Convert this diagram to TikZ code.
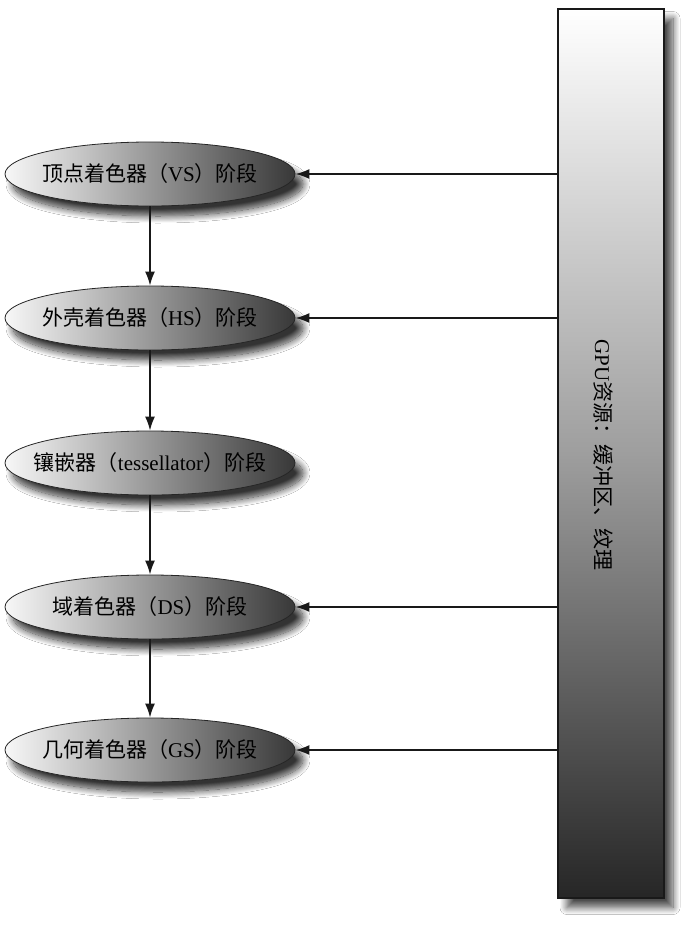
\documentclass[tikz,border=0pt]{standalone}
\usepackage{fontspec}
\setmainfont{Liberation Serif}
\newfontfamily\cjk{Noto Sans CJK SC}
\usetikzlibrary{shapes.geometric,arrows.meta,shadows.blur}
\tikzset{
  stage/.style={ellipse, draw=black!85, line width=0.8pt, minimum width=290pt, minimum height=64pt,
    inner xsep=-45pt, inner ysep=0pt, left color=black!3, right color=black!78, font=\fontsize{21}{23}\selectfont,
    blur shadow={shadow xshift=8pt, shadow yshift=-10pt, shadow blur radius=7pt, shadow blur steps=14, shadow opacity=80}},
  res/.style={rectangle, draw=black!90, line width=2pt, minimum width=106pt, minimum height=889pt,
    inner sep=0pt, top color=white, bottom color=black!85, middle color=black!38,
    blur shadow={shadow xshift=9pt, shadow yshift=-10pt, shadow blur radius=7pt, shadow blur steps=12, shadow opacity=70}},
  arr/.style={-{Latex[length=14pt,width=10pt]}, line width=1.6pt, black!90}
}
\begin{document}
\begin{tikzpicture}[x=1pt,y=-1pt]
\useasboundingbox[fill=white] (0,0) rectangle (692,927);
\node[res] (gpu) at (611,453) {};
\node[rotate=-90, font=\fontsize{21}{23}\selectfont] (gputxt) at (603,455) {GPU{\cjk 资源：缓冲区、纹理}};
\node[stage] (vs) at (150,174) {{\cjk 顶点着色器（}VS{\cjk ）阶段}};
\node[stage] (hs) at (150,318) {{\cjk 外壳着色器（}HS{\cjk ）阶段}};
\node[stage] (ts) at (150,463) {{\cjk 镶嵌器（}tessellator{\cjk ）阶段}};
\node[stage] (ds) at (150,607) {{\cjk 域着色器（}DS{\cjk ）阶段}};
\node[stage] (gs) at (150,750) {{\cjk 几何着色器（}GS{\cjk ）阶段}};
\draw[arr] (vs) -- (hs);
\draw[arr] (hs) -- (ts);
\draw[arr] (ts) -- (ds);
\draw[arr] (ds) -- (gs);
\draw[arr] (gpu.west |- vs) -- (vs.east);
\draw[arr] (gpu.west |- hs) -- (hs.east);
\draw[arr] (gpu.west |- ds) -- (ds.east);
\draw[arr] (gpu.west |- gs) -- (gs.east);
\end{tikzpicture}
\end{document}
